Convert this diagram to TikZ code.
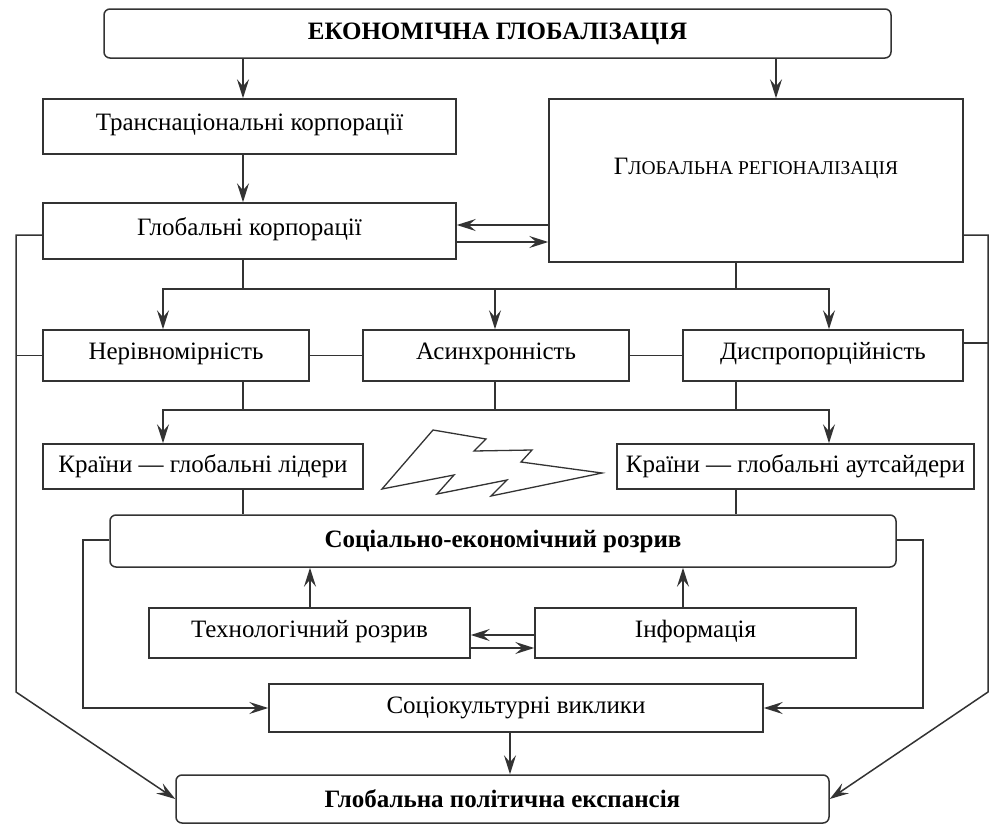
\documentclass[tikz,border=0pt]{standalone}
\usepackage{fontspec}
\setmainfont{Liberation Serif}
\usetikzlibrary{arrows.meta}
\definecolor{ink}{HTML}{333333}
\tikzset{
  x=1pt, y=-1pt,
  box/.style={draw=ink, line width=1.5pt, rectangle, inner sep=0pt,
    font=\fontsize{25}{30}\selectfont},
  hi/.style={text height=17pt, text depth=9pt},
  rbox/.style={box, rounded corners=6pt, font=\fontsize{25}{30}\selectfont\bfseries},
  link/.style={draw=ink, line width=1.5pt},
  tip/.tip={Stealth[length=19pt,width=12pt,inset=7pt]},
  arr/.style={link, -tip},
  arrs/.style={link, tip-tip},
}
\newcommand{\smc}[1]{{\fontsize{19.5}{22}\selectfont #1}}
\begin{document}
\begin{tikzpicture}
\useasboundingbox (0,0) rectangle (989,825);

% boxes
\node[rbox, minimum width=787pt, minimum height=49pt] (title) at (497.5,33.5) {ЕКОНОМІЧНА ГЛОБАЛІЗАЦІЯ};
\node[box, hi, minimum width=413pt, minimum height=55pt] (trans) at (249.5,126.5) {Транснаціональні корпорації};
\node[box, hi, minimum width=413pt, minimum height=56pt] (gkorp) at (249.5,231) {Глобальні корпорації};
\node[box, minimum width=414pt, minimum height=163pt,
  label={[font=\fontsize{25}{30}\selectfont, yshift=12pt]center:Г\smc{ЛОБАЛЬНА РЕГІОНАЛІЗАЦІЯ}}] (greg) at (756,180.5) {};
\node[box, hi, minimum width=266pt, minimum height=51pt] (nerivn) at (176,355.5) {Нерівномірність};
\node[box, hi, minimum width=266pt, minimum height=51pt] (asynch) at (496,355.5) {Асинхронність};
\node[box, hi, minimum width=280pt, minimum height=51pt] (dysprop) at (823,355.5) {Диспропорційність};
\node[box, minimum width=320pt, minimum height=45pt] (lidery) at (203,466.5) {Країни — глобальні лідери};
\node[box, minimum width=357pt, minimum height=45pt] (autsaid) at (795.5,466.5) {Країни — глобальні аутсайдери};
\node[rbox, minimum width=786pt, minimum height=52pt] (socecon) at (503,541) {Соціально-економічний розрив};
\node[box, hi, minimum width=321pt, minimum height=50pt] (tech) at (309.5,633) {Технологічний розрив};
\node[box, hi, minimum width=321pt, minimum height=50pt] (info) at (695.5,633) {Інформація};
\node[box, minimum width=494pt, minimum height=48pt] (sockult) at (516,708) {Соціокультурні виклики};
\node[rbox, minimum width=653pt, minimum height=48pt] (gpol) at (502.5,799) {Глобальна політична експансія};

% top level
\draw[arr] (243,0 |- title.south) -- (243,0 |- trans.north);
\draw[arr] (776,0 |- title.south) -- (776,0 |- greg.north);
\draw[arr] (243,0 |- trans.south) -- (243,0 |- gkorp.north);
\draw[arr] (greg.west |- 0,225) -- (gkorp.east |- 0,225);
\draw[arr] (gkorp.east |- 0,242) -- (greg.west |- 0,242);

% outer side buses
\draw[arr] (gkorp.west |- 0,235) -- (16,235) -- (16,692) -- (gpol.west);
\draw[arr] (greg.east |- 0,235) -- (988,235) -- (988,692) -- (gpol.east);
\draw[link] (nerivn.west) -- (16,0 |- nerivn.west);
\draw[link] (dysprop.east |- 0,343) -- (988,343);

% distribution to the three features
\draw[link] (243,0 |- gkorp.south) -- (243,289);
\draw[link] (736,0 |- greg.south) -- (736,289);
\draw[arrs] (163,0 |- nerivn.north) -- (163,289) -- (829,289) -- (829,0 |- dysprop.north);
\draw[arr] (495,289) -- (495,0 |- asynch.north);
\draw[link] (nerivn.east) -- (asynch.west);
\draw[link] (asynch.east) -- (dysprop.west);

% to the two groups of countries
\draw[link] (243,0 |- nerivn.south) -- (243,410);
\draw[link] (495,0 |- asynch.south) -- (495,410);
\draw[link] (736,0 |- dysprop.south) -- (736,410);
\draw[arrs] (163,0 |- lidery.north) -- (163,410) -- (829,410) -- (829,0 |- autsaid.north);

% lightning between the groups
\draw[link, line width=1.3pt, line join=miter] (433,430) -- (486,439) -- (474,451) -- (532,450) -- (521,462) -- (602,473)
  -- (491,496) -- (507,480) -- (437,494) -- (454,475) -- (382,489) -- cycle;

\draw[link] (243,0 |- lidery.south) -- (243,0 |- socecon.north);
\draw[link] (736,0 |- autsaid.south) -- (736,0 |- socecon.north);

% gap block
\draw[arr] (socecon.west |- 0,540) -- (83,540) -- (83,708) -- (sockult.west);
\draw[arr] (socecon.east |- 0,540) -- (923,540) -- (923,708) -- (sockult.east);
\draw[arr] (310,0 |- tech.north) -- (310,0 |- socecon.south);
\draw[arr] (683,0 |- info.north) -- (683,0 |- socecon.south);
\draw[arr] (info.west |- 0,635) -- (tech.east |- 0,635);
\draw[arr] (tech.east |- 0,648) -- (info.west |- 0,648);
\draw[arr] (510,0 |- sockult.south) -- (510,0 |- gpol.north);
\end{tikzpicture}
\end{document}
